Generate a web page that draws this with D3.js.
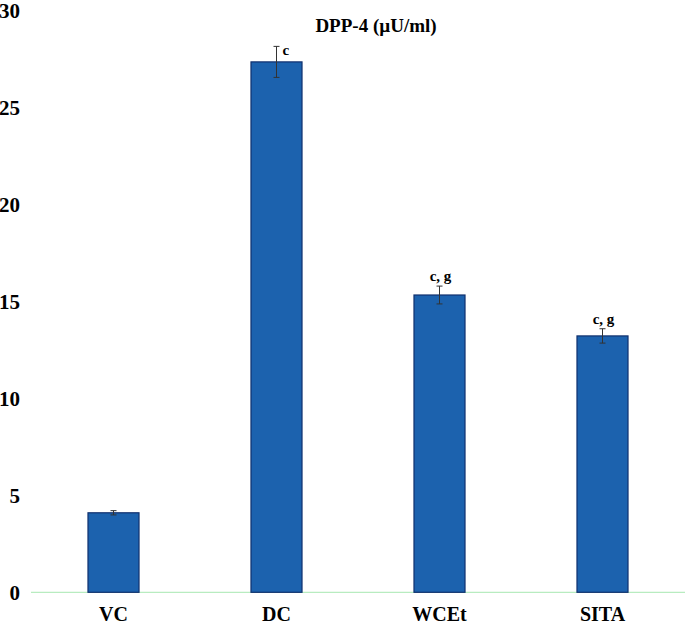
<!DOCTYPE html>
<html>
<head>
<meta charset="utf-8">
<script src="https://cdn.jsdelivr.net/npm/d3@7"></script>
<style>
body { margin: 0; background: #fff; }
</style>
</head>
<body>
<div id="chart"></div>
<script>
var groups = ["VC", "DC", "WCEt", "SITA"];
var means = [4.1, 27.35, 15.33, 13.22];
var errors = [0.11, 0.8, 0.46, 0.37];
var letters = ["", "c", "c, g", "c, g"];
var yTicks = [0, 5, 10, 15, 20, 25, 30];

var width = 685, height = 626;
var serif = "Liberation Serif";

var svg = d3.select("#chart")
  .append("svg")
  .attr("width", width)
  .attr("height", height);

var xScale = d3.scaleBand()
  .domain(groups)
  .range([32, 684])
  .paddingInner(0.687)
  .paddingOuter(0.3435);

var yScale = d3.scaleLinear()
  .domain([0, 30])
  .range([592.3, 10.5]);

// y axis labels only, no axis line
var yAxis = svg.append("g")
  .attr("transform", "translate(20,0)")
  .attr("font-family", serif)
  .call(d3.axisLeft(yScale).tickValues(yTicks).tickSize(0).tickPadding(0));
yAxis.select(".domain").remove();
yAxis.selectAll("text")
  .attr("font-size", 21)
  .attr("font-family", serif)
  .attr("font-weight", "bold")
  .attr("fill", "#000");

// baseline
svg.append("line")
  .attr("x1", 31)
  .attr("x2", width)
  .attr("y1", yScale(0))
  .attr("y2", yScale(0))
  .attr("stroke", "#b8ecc0")
  .attr("stroke-width", 1.2);

// bars
svg.selectAll("rect.bar")
  .data(groups)
  .enter()
  .append("rect")
  .attr("class", "bar")
  .attr("x", function(d) { return xScale(d); })
  .attr("width", xScale.bandwidth())
  .attr("y", function(d, i) { return yScale(means[i]); })
  .attr("height", function(d, i) { return yScale(0) - yScale(means[i]); })
  .attr("fill", "#1c62ae")
  .attr("stroke", "#10306e")
  .attr("stroke-width", 1.2);

// error bars
var eb = svg.selectAll("g.err")
  .data(groups)
  .enter()
  .append("g")
  .attr("class", "err")
  .attr("stroke", "#333")
  .attr("stroke-width", 1);
eb.append("line")
  .attr("x1", function(d) { return xScale(d) + xScale.bandwidth() / 2; })
  .attr("x2", function(d) { return xScale(d) + xScale.bandwidth() / 2; })
  .attr("y1", function(d, i) { return yScale(means[i] + errors[i]); })
  .attr("y2", function(d, i) { return yScale(means[i] - errors[i]); });
[1, -1].forEach(function(s) {
  eb.append("line")
    .attr("x1", function(d) { return xScale(d) + xScale.bandwidth() / 2 - 3; })
    .attr("x2", function(d) { return xScale(d) + xScale.bandwidth() / 2 + 3; })
    .attr("y1", function(d, i) { return yScale(means[i] + s * errors[i]); })
    .attr("y2", function(d, i) { return yScale(means[i] + s * errors[i]); });
});

// significance letters
svg.selectAll("text.sig")
  .data(groups)
  .enter()
  .append("text")
  .attr("class", "sig")
  .text(function(d, i) { return letters[i]; })
  .attr("font-family", serif)
  .attr("font-weight", "bold")
  .attr("font-size", 15)
  .attr("fill", "#000")
  .attr("text-anchor", function(d, i) { return letters[i].length > 1 ? "middle" : "start"; })
  .attr("x", function(d, i) {
    var cx = xScale(d) + xScale.bandwidth() / 2;
    return letters[i].length > 1 ? cx + 1 : cx + 6;
  })
  .attr("y", function(d, i) {
    var top = yScale(means[i] + errors[i]);
    return letters[i].length > 1 ? top - 5 : top + 9;
  });

// category labels
svg.selectAll("text.cat")
  .data(groups)
  .enter()
  .append("text")
  .attr("class", "cat")
  .text(function(d) { return d; })
  .attr("x", function(d) { return xScale(d) + xScale.bandwidth() / 2; })
  .attr("y", 621)
  .attr("text-anchor", "middle")
  .attr("font-family", serif)
  .attr("font-weight", "bold")
  .attr("font-size", 20)
  .attr("fill", "#000");

// title
svg.append("text")
  .text("DPP-4 (µU/ml)")
  .attr("x", 376)
  .attr("y", 32)
  .attr("text-anchor", "middle")
  .attr("font-family", serif)
  .attr("font-weight", "bold")
  .attr("font-size", 19)
  .attr("fill", "#000");
</script>
</body>
</html>
